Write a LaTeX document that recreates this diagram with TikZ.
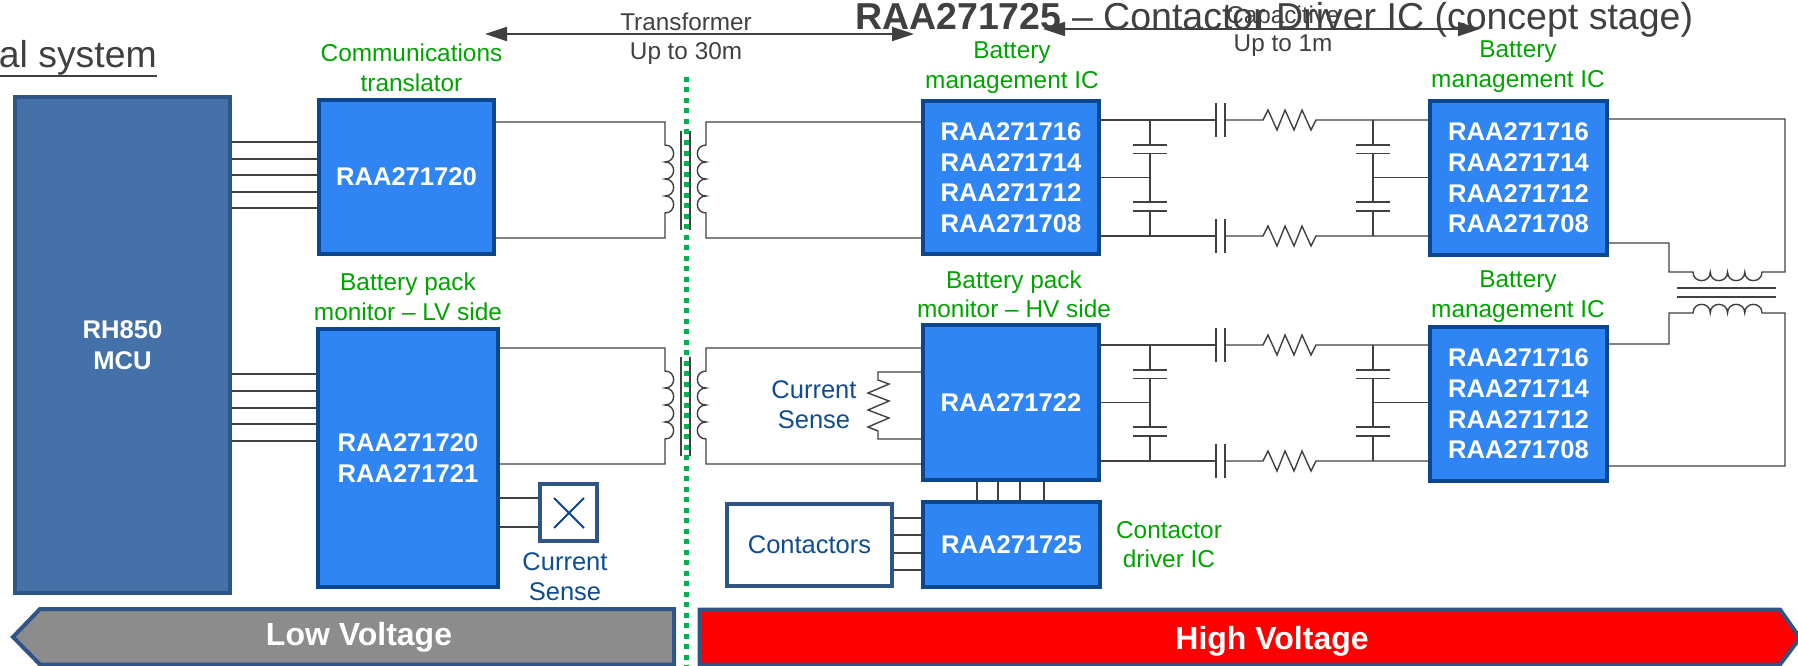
\documentclass[tikz,border=0pt]{standalone}
\usepackage{fontspec}
\setmainfont{Liberation Sans}
\usetikzlibrary{arrows.meta}
\definecolor{inkgrey}{HTML}{404040}
\definecolor{chipblue}{HTML}{3085F5}
\definecolor{chipedge}{HTML}{0B468F}
\definecolor{mcublue}{HTML}{4571A9}
\definecolor{frameblue}{HTML}{2F5486}
\definecolor{labelgreen}{HTML}{00A300}
\definecolor{sensetext}{HTML}{0F4C90}
\definecolor{gridgreen}{HTML}{00B050}
\begin{document}
\begin{tikzpicture}[x=1pt,y=-1pt,>={Triangle[length=22pt,width=14pt]}]
    % styles
    \tikzset{
        wire/.style={draw=inkgrey,line width=1.4pt},
        chip/.style={rectangle,draw=chipedge,fill=chipblue,line width=4pt,text=white,align=center,
            font=\bfseries\fontsize{25.6}{30.6}\selectfont},
        mcubox/.style={chip,draw=frameblue,fill=mcublue,line width=3.5pt},
        framebox/.style={rectangle,draw=frameblue,fill=white,line width=4pt,text=sensetext,
            font=\fontsize{25.5}{30}\selectfont},
        partlabel/.style={text=labelgreen,align=center,inner sep=0pt,font=\fontsize{24.4}{29.5}\selectfont},
        senselabel/.style={text=sensetext,align=center,inner sep=0pt,font=\fontsize{25.5}{30.5}\selectfont},
        linklabel/.style={text=inkgrey,align=center,inner sep=0pt,font=\fontsize{24.3}{28.5}\selectfont},
        band/.style={draw=frameblue,line width=4pt,line join=miter},
        bandlabel/.style={text=white,inner sep=0pt,font=\bfseries\fontsize{32}{36}\selectfont}
    }
    \useasboundingbox (0,0) rectangle (1798,666);

    % headings
    \node[anchor=base west,inner sep=0pt,text=inkgrey,font=\fontsize{37.5}{42}\selectfont] (title) at (855,30)
        {\textbf{RAA271725} – Contactor Driver IC (concept stage)};
    \node[anchor=base east,inner sep=0pt,text=inkgrey,font=\fontsize{37.4}{40}\selectfont] (subtitle) at (157,68) {al system};
    \draw[draw=inkgrey,line width=1.8pt] (subtitle.south west) -- (subtitle.south east);

    % blocks
    \node[mcubox,minimum width=215pt,minimum height=496pt] (mcu) at (122.5,345) {RH850\\MCU};
    \node[chip,minimum width=175pt,minimum height=154pt] (comm) at (406.5,177) {RAA271720};
    \node[chip,minimum width=180pt,minimum height=258pt] (lvmon) at (408,458) {RAA271720\\RAA271721};
    \node[chip,minimum width=176pt,minimum height=153pt] (bmsa) at (1011,177.5) {RAA271716\\RAA271714\\RAA271712\\RAA271708};
    \node[chip,minimum width=177pt,minimum height=154pt] (bmsb) at (1518.5,178) {RAA271716\\RAA271714\\RAA271712\\RAA271708};
    \node[chip,minimum width=176pt,minimum height=155pt] (hvmon) at (1011,402.5) {RAA271722};
    \node[chip,minimum width=177pt,minimum height=154pt] (bmsc) at (1518.5,404) {RAA271716\\RAA271714\\RAA271712\\RAA271708};
    \node[chip,minimum width=177pt,minimum height=85pt] (driver) at (1011.5,544.5) {RAA271725};
    \node[framebox,minimum width=165pt,minimum height=82pt] (contactors) at (809.5,545) {Contactors};
    \node[framebox,minimum width=57pt,minimum height=57pt] (shunt) at (568.5,512.5) {};
    \draw[draw=chipedge,line width=1.8pt] (554,498) -- (584,528) (584,498) -- (554,528);

    % labels
    \node[partlabel] (lblcomm) at (411.5,68) {Communications\\translator};
    \node[partlabel] (lbllv) at (408,297) {Battery pack\\monitor – LV side};
    \node[partlabel] (lblbmsa) at (1012,67.5) {Battery\\management IC};
    \node[partlabel] (lblbmsb) at (1518,66.5) {Battery\\management IC};
    \node[partlabel] (lblhv) at (1014,294.5) {Battery pack\\monitor – HV side};
    \node[partlabel] (lblbmsc) at (1518,296.5) {Battery\\management IC};
    \node[partlabel] (lbldriver) at (1169,544.5) {Contactor\\driver IC};
    \node[senselabel] (lblshunt) at (565,576.5) {Current\\Sense};
    \node[senselabel] (lblsense) at (814,404.5) {Current\\Sense};

    % link spans
    \coordinate (spanal) at (485,34);
    \coordinate (spanar) at (914,34);
    \coordinate (spanbl) at (1043,29);
    \coordinate (spanbr) at (1480,29);
    \draw[<->,draw=inkgrey,fill=inkgrey,line width=1.8pt] (spanal) -- (spanar);
    \draw[<->,draw=inkgrey,fill=inkgrey,line width=1.8pt] (spanbl) -- (spanbr);
    \node[linklabel] (lblxfmr) at (686,38.5) {Transformer\\Up to 30m};
    \node[linklabel] (lblcap) at (1283,31) {Capacitive\\Up to 1m};

    % bus lines
    \foreach \ypos in {142,159,175,192,208} {
        \draw[wire] (mcu.east |- 0,\ypos) -- (comm.west |- 0,\ypos);
    }
    \foreach \ypos in {374,391,408,424,441} {
        \draw[wire] (mcu.east |- 0,\ypos) -- (lvmon.west |- 0,\ypos);
    }
    \foreach \ypos in {518,535,553,570} {
        \draw[wire] (contactors.east |- 0,\ypos) -- (driver.west |- 0,\ypos);
    }
    \foreach \xpos in {977,998,1020,1044} {
        \draw[wire] (hvmon.south -| \xpos,0) -- (driver.north -| \xpos,0);
    }
    \draw[wire] (lvmon.east |- 0,498) -- (shunt.west |- 0,498);
    \draw[wire] (lvmon.east |- 0,527) -- (shunt.west |- 0,527);

    % isolation transformers
    \foreach \src/\dst/\dy in {comm/bmsa/0,lvmon/hvmon/226} {
        \draw[wire] (\src.east |- 0,{122+\dy}) -- (665,{122+\dy}) -- (665,{145+\dy})
            foreach \i in {1,...,4} { .. controls +(11.5,0) and +(11.5,0) .. ++(0,17) }
            -- (665,{238+\dy}) -- (\src.east |- 0,{238+\dy});
        \draw[wire] (\dst.west |- 0,{122+\dy}) -- (706,{122+\dy}) -- (706,{145+\dy})
            foreach \i in {1,...,4} { .. controls +(-11.5,0) and +(-11.5,0) .. ++(0,17) }
            -- (706,{238+\dy}) -- (\dst.west |- 0,{238+\dy});
        \draw[wire] (681,{131+\dy}) -- (681,{230+\dy});
        \draw[wire] (690,{131+\dy}) -- (690,{230+\dy});
    }

    % sense resistor
    \draw[wire] (hvmon.west |- 0,372) -- (878,372) -- (878,380) -- (889,384) -- (868,393) -- (889,401)
        -- (868,410) -- (889,418) -- (868,427) -- (878,431) -- (878,439) -- (hvmon.west |- 0,439);

    % capacitive links
    \foreach \src/\dst/\dy in {bmsa/bmsb/0,hvmon/bmsc/225} {
        \foreach \ypos in {120,236} {
            \draw[wire] (\src.east |- 0,{\ypos+\dy}) -- (1216,{\ypos+\dy});
            \draw[wire] (1216,{\ypos+\dy-17}) -- (1216,{\ypos+\dy+17});
            \draw[wire] (1225,{\ypos+\dy-17}) -- (1225,{\ypos+\dy+17});
            \draw[wire] (1225,{\ypos+\dy}) -- (1263,{\ypos+\dy}) -- (1268,{\ypos+\dy-10}) -- (1277,{\ypos+\dy+10})
                -- (1285,{\ypos+\dy-10}) -- (1294,{\ypos+\dy+10}) -- (1302,{\ypos+\dy-10}) -- (1311,{\ypos+\dy+10})
                -- (1316,{\ypos+\dy}) -- (\dst.west |- 0,{\ypos+\dy});
        }
        \foreach \xpos in {1150,1373} {
            \draw[wire] (\xpos,{120+\dy}) -- (\xpos,{145+\dy});
            \draw[wire] (\xpos-17,{145+\dy}) -- (\xpos+17,{145+\dy});
            \draw[wire] (\xpos-17,{153.5+\dy}) -- (\xpos+17,{153.5+\dy});
            \draw[wire] (\xpos,{153.5+\dy}) -- (\xpos,{202+\dy});
            \draw[wire] (\xpos-17,{202+\dy}) -- (\xpos+17,{202+\dy});
            \draw[wire] (\xpos-17,{211+\dy}) -- (\xpos+17,{211+\dy});
            \draw[wire] (\xpos,{211+\dy}) -- (\xpos,{236+\dy});
        }
        \draw[wire] (\src.east |- 0,{177.5+\dy}) -- (1150,{177.5+\dy});
        \draw[wire] (1373,{177.5+\dy}) -- (\dst.west |- 0,{177.5+\dy});
    }

    % daisy chain transformer
    \draw[wire] (bmsb.east |- 0,119) -- (1785,119) -- (1785,272) -- (1762,272)
        foreach \i in {1,...,4} { .. controls +(0,11.5) and +(0,11.5) .. ++(-17.25,0) }
        -- (1669,272) -- (1669,243) -- (bmsb.east |- 0,243);
    \draw[wire] (bmsc.east |- 0,466) -- (1785,466) -- (1785,313) -- (1762,313)
        foreach \i in {1,...,4} { .. controls +(0,-11.5) and +(0,-11.5) .. ++(-17.25,0) }
        -- (1669,313) -- (1669,344) -- (bmsc.east |- 0,344);
    \draw[wire] (1677,288) -- (1776,288);
    \draw[wire] (1677,297) -- (1776,297);

    % isolation barrier
    \coordinate (gridtop) at (686,77);
    \coordinate (gridbot) at (686,666);
    \draw[draw=gridgreen,line width=5pt,dash pattern=on 5pt off 5.5pt] (gridtop) -- (gridbot);

    % voltage bands
    \draw[band,fill=black!45] (13,637) -- (40,609) -- (674,609) -- (674,664.5) -- (40,664.5) -- cycle;
    \draw[band,fill=red] (699.5,609.5) -- (1780,609.5) -- (1800,638) -- (1780,664.5) -- (699.5,664.5) -- cycle;
    \node[bandlabel] (lowv) at (359,637.5) {Low Voltage};
    \node[bandlabel] (highv) at (1272,641) {High Voltage};
\end{tikzpicture}
\end{document}
